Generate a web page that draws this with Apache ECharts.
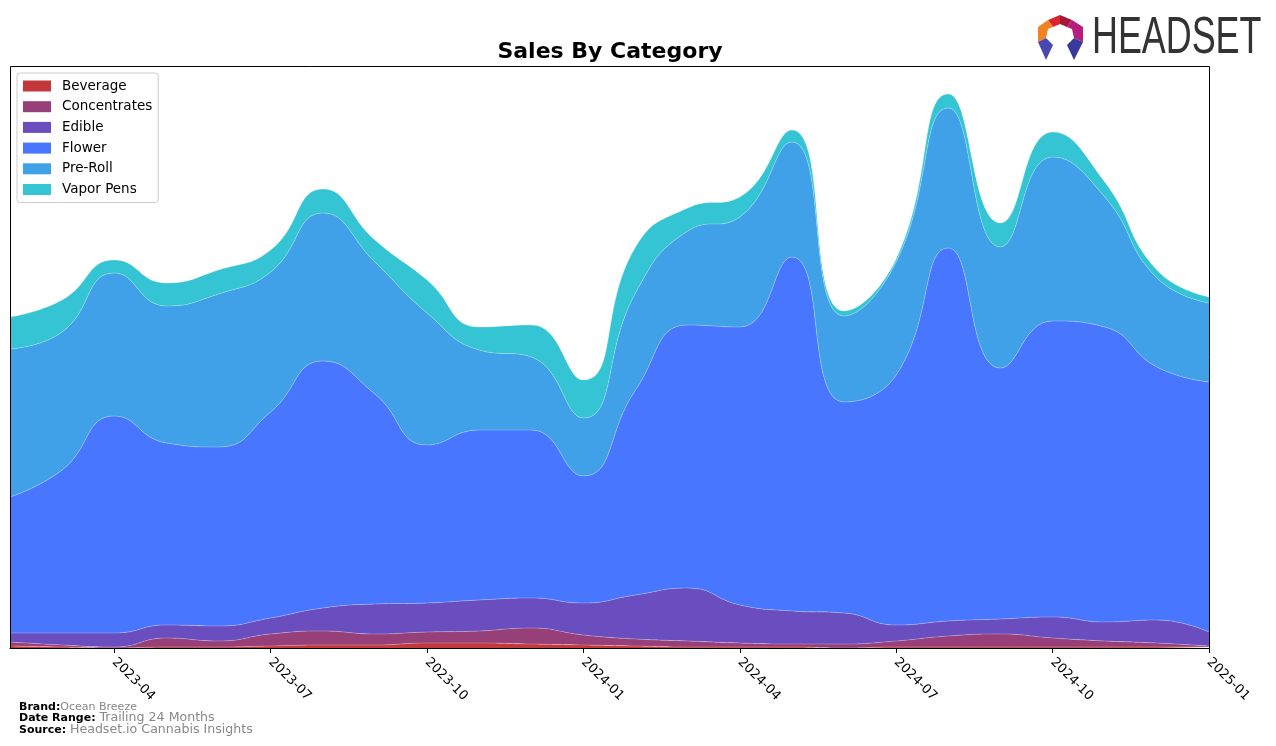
<!DOCTYPE html>
<html>
<head>
<meta charset="utf-8">
<script src="https://cdn.jsdelivr.net/npm/echarts@6/dist/echarts.min.js"></script>
<style>html,body{margin:0;padding:0;background:#fff;}#chart{width:1276px;height:746px;}</style>
</head>
<body>
<div id="chart"></div>
<script>
const months = ['2023-02','2023-03','2023-04','2023-05','2023-06','2023-07','2023-08','2023-09','2023-10','2023-11','2023-12','2024-01',
                '2024-02','2024-03','2024-04','2024-05','2024-06','2024-07','2024-08','2024-09','2024-10','2024-11','2024-12','2025-01'];
const beverage     = [2,1,0,1,1,2,3,3,5,5,4,3,2,1,1,1,0,1,1,1,1,1,1,1];
const concentrates = [4,2,1,9,6,12,14,11,11,12,16,10,7,6,4,3,4,6,11,13,9,6,4,1];
const edible       = [9,12,14,13,15,16,23,30,29,31,30,32,44,53,38,33,31,16,15,15,21,19,23,14];
const flower       = [136,163,217,182,179,206,247,210,158,170,168,127,205,263,278,354,211,250,373,251,296,295,253,250];
const preRoll      = [148,138,143,137,153,140,148,132,132,80,73,58,97,94,110,115,86,113,140,121,164,130,89,79];
const vaporPens    = [32,32,13,23,24,22,24,22,33,23,32,38,46,23,20,12,5,3,14,24,25,15,8,6];
const tickMonths   = ['2023-04','2023-07','2023-10','2024-01','2024-04','2024-07','2024-10','2025-01'];

const seriesDefs = [
  {name:'Beverage', data:beverage, color:'#C3383B'},
  {name:'Concentrates', data:concentrates, color:'#973F78'},
  {name:'Edible', data:edible, color:'#6A4DBE'},
  {name:'Flower', data:flower, color:'#4876FF'},
  {name:'Pre-Roll', data:preRoll, color:'#40A0E8'},
  {name:'Vapor Pens', data:vaporPens, color:'#35C4D3'}
];

const FONT = 'DejaVu Sans';
const chart = echarts.init(document.getElementById('chart'), null, {renderer:'canvas'});
const isTick = (idx) => tickMonths.indexOf(months[idx]) >= 0;

chart.setOption({
  animation: false,
  backgroundColor: '#fff',
  textStyle: {fontFamily: FONT},
  grid: {left: 10, right: 67, top: 66, bottom: 98, containLabel: false},
  legend: {
    orient: 'vertical', left: 17, top: 73,
    data: seriesDefs.map(s => s.name),
    icon: 'rect', itemWidth: 28, itemHeight: 11, itemGap: 6.7,
    padding: [6, 6, 6, 6],
    backgroundColor: 'rgba(255,255,255,0.85)',
    borderColor: '#cccccc', borderWidth: 1, borderRadius: 3,
    textStyle: {fontFamily: FONT, fontSize: 13.5, color: '#000', lineHeight: 13, padding: [0,0,0,6]},
    selectedMode: false
  },
  xAxis: {
    type: 'category', data: months, boundaryGap: false,
    axisLine: {show: true, lineStyle: {color: '#000', width: 1}},
    axisTick: {show: true, interval: (i) => isTick(i), length: 5, lineStyle: {color: '#000'}},
    axisLabel: {interval: (i) => isTick(i), rotate: -45, margin: 12, fontFamily: FONT, fontSize: 13, color: '#000'},
    splitLine: {show: false}
  },
  yAxis: {
    type: 'value', min: 0, max: 582,
    axisLine: {show: false}, axisTick: {show: false}, axisLabel: {show: false}, splitLine: {show: false}
  },
  series: seriesDefs.map(s => ({
    name: s.name, type: 'line', stack: 'total', data: s.data,
    smooth: 0.5, symbol: 'none', showSymbol: false,
    lineStyle: {width: 1, color: 'rgba(255,255,255,0.25)'},
    areaStyle: {color: s.color, opacity: 1},
    itemStyle: {color: s.color},
    emphasis: {disabled: true}
  })),
  graphic: [
    {type: 'rect', z: 100, silent: true, shape: {x: 10.5, y: 66.5, width: 1199, height: 582},
     style: {fill: 'none', stroke: '#000', lineWidth: 1}},
    {type: 'text', z: 100, x: 610, y: 52, style: {text: 'Sales By Category', font: 'bold 22px "DejaVu Sans"', fill: '#000', textAlign: 'center', textVerticalAlign: 'middle'}},
    {type: 'text', z: 100, x: 19, y: 707, style: {
      text: '{b|Brand:}{v|Ocean Breeze}', textVerticalAlign: 'middle',
      rich: {b: {font: 'bold 11px "DejaVu Sans"', fill: '#000'}, v: {font: '11px "DejaVu Sans"', fill: '#888'}}}},
    {type: 'text', z: 100, x: 19, y: 718, style: {
      text: '{b|Date Range: }{v|Trailing 24 Months}', textVerticalAlign: 'middle',
      rich: {b: {font: 'bold 11px "DejaVu Sans"', fill: '#000'}, v: {font: '12.6px "DejaVu Sans"', fill: '#888'}}}},
    {type: 'text', z: 100, x: 19, y: 730, style: {
      text: '{b|Source: }{v|Headset.io Cannabis Insights}', textVerticalAlign: 'middle',
      rich: {b: {font: 'bold 11px "DejaVu Sans"', fill: '#000'}, v: {font: '12.6px "DejaVu Sans"', fill: '#888'}}}},
    // Logo text
    {type: 'text', z: 100, x: 1092, y: 39, scaleX: 0.69,
     style: {text: 'HEADSET', font: '52px "Liberation Sans"', fill: '#333333', textVerticalAlign: 'middle'}},
    // Logo icon
    {type: 'polygon', z: 100, shape: {points: [[1060,15],[1072,20],[1067,27],[1060,24]]}, style: {fill: '#A51638'}},
    {type: 'polygon', z: 100, shape: {points: [[1060,15],[1048,20],[1053,27],[1060,24]]}, style: {fill: '#D9262E'}},
    {type: 'polygon', z: 100, shape: {points: [[1072,20],[1083,27],[1083,42],[1074,38],[1072,29],[1067,27]]}, style: {fill: '#B81C7C'}},
    {type: 'polygon', z: 100, shape: {points: [[1048,20],[1038,27],[1038,42],[1046,38],[1048,29],[1053,27]]}, style: {fill: '#F08424'}},
    {type: 'polygon', z: 100, shape: {points: [[1038,42],[1046,38],[1053,45],[1046,60]]}, style: {fill: '#4848B0'}},
    {type: 'polygon', z: 100, shape: {points: [[1083,42],[1074,38],[1067,45],[1074,60]]}, style: {fill: '#3A3A9C'}}
  ]
});
</script>
</body>
</html>
